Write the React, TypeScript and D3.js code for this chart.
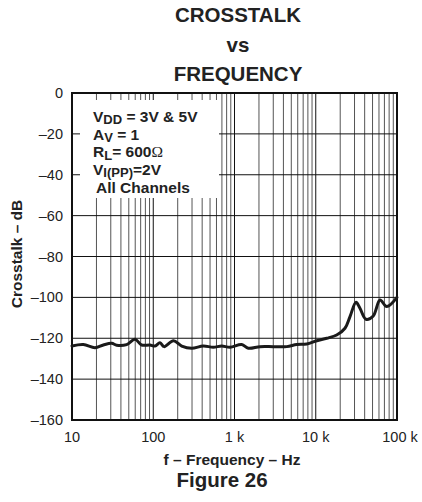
import React from "react";
import * as d3 from "d3";

const freqHz: number[] = [10, 13.8, 19.2, 24.3, 30.8, 35.5, 47, 59.6, 72, 91, 105, 121, 136, 177, 224, 297, 413, 548, 695, 881, 1227, 1480, 2060, 3000, 4400, 5830, 7750, 10300, 13650, 18100, 22900, 26400, 31300, 35000, 41500, 51000, 61800, 74700, 100000];
const crosstalkDb: number[] = [-123.8, -123.1, -124.6, -123.3, -122.5, -123.4, -123.1, -120.5, -123.3, -123.3, -123.8, -122.2, -124.1, -121.2, -123.8, -124.9, -123.8, -124.4, -123.8, -124.4, -123.1, -124.9, -124.1, -124.1, -124.1, -123.1, -122.8, -121.2, -120.0, -118.4, -115.1, -109.4, -102.4, -105.3, -110.7, -109.1, -101.3, -104.5, -100];

const yTicks: number[] = [0, -20, -40, -60, -80, -100, -120, -140, -160];
const xTickValues: number[] = [10, 100, 1000, 10000, 100000];
const xTickLabels: string[] = ["10", "100", "1 k", "10 k", "100 k"];
const titleLines: string[] = ["CROSSTALK", "vs", "FREQUENCY"];

const FONT = "'Liberation Sans', Arial, Helvetica, sans-serif";

export default function App() {
  const left = 72, right = 397, top = 93, bottom = 420;
  const x = d3.scaleLog().domain([10, 100000]).range([left, right]);
  const y = d3.scaleLinear().domain([-160, 0]).range([bottom, top]);

  const minorFreqs: number[] = [];
  for (let dec = 10; dec < 100000; dec *= 10) {
    for (let m = 1; m <= 9; m++) minorFreqs.push(dec * m);
  }
  minorFreqs.push(100000);

  const pts: [number, number][] = freqHz.map((f, i) => [f, crosstalkDb[i]]);
  const line = d3
    .line<[number, number]>()
    .x((d) => x(d[0]))
    .y((d) => y(d[1]))
    .curve(d3.curveCatmullRom.alpha(0.5));

  const titleY = [22, 51.5, 80.5];

  return (
    <svg
      width={422}
      height={502}
      style={{ position: "absolute", left: 0, top: 0, display: "block", background: "#fff" }}
      fontFamily={FONT}
    >
      <rect x={0} y={0} width={422} height={502} fill="#fff" />
      {titleLines.map((t, i) => (
        <text key={t} x={238} y={titleY[i]} textAnchor="middle" fontWeight="bold" fontSize={20.5} fill="#222">
          {t}
        </text>
      ))}

      {/* grid */}
      {minorFreqs.map((f, i) => {
        const isDecade = Math.abs(Math.log10(f) - Math.round(Math.log10(f))) < 1e-9;
        return (
          <line
            key={"v" + i}
            x1={x(f)}
            x2={x(f)}
            y1={top}
            y2={bottom}
            stroke={isDecade ? "#111" : "#555"}
            strokeWidth={1}
          />
        );
      })}
      {yTicks.map((v) => (
        <line key={"h" + v} x1={left} x2={right} y1={y(v)} y2={y(v)} stroke="#111" strokeWidth={1} />
      ))}

      {/* legend box (white) */}
      <rect x={80} y={100} width={139} height={98} fill="#fff" />

      {/* border */}
      <rect x={left} y={top} width={right - left} height={bottom - top} fill="none" stroke="#111" strokeWidth={2} />

      {/* curve */}
      <path d={line(pts) || ""} fill="none" stroke="#1a1a1a" strokeWidth={3} strokeLinejoin="round" strokeLinecap="round" />

      {/* legend text */}
      <g fontWeight="bold" fontSize={15.5} fill="#222">
        <text x={93} y={121.5}>
          V<tspan fontSize={13} dy={2.5}>DD</tspan>
          <tspan dy={-2.5}> = 3V &amp; 5V</tspan>
        </text>
        <text x={93} y={139.5}>
          A<tspan fontSize={13} dy={2.5}>V</tspan>
          <tspan dy={-2.5}> = 1</tspan>
        </text>
        <text x={93} y={157}>
          R<tspan fontSize={13} dy={2.5}>L</tspan>
          <tspan dy={-2.5}>= 600</tspan>
          <tspan fontWeight="normal" fontFamily="'Liberation Serif', 'DejaVu Serif', serif">Ω</tspan>
        </text>
        <text x={93} y={174.5}>
          V<tspan fontSize={13} dy={2}>I(PP)</tspan>
          <tspan dy={-2}>=2V</tspan>
        </text>
        <text x={96} y={193}>All Channels</text>
      </g>

      {/* y tick labels */}
      {yTicks.map((v) => (
        <text key={"yl" + v} x={63} y={y(v)} textAnchor="end" dominantBaseline="central" fontSize={14.5} fill="#222">
          {v === 0 ? "0" : "–" + Math.abs(v)}
        </text>
      ))}
      {/* x tick labels */}
      {xTickValues.map((v, i) => (
        <text key={"xl" + v} x={x(v) + (i === 4 ? 3 : 0)} y={442} textAnchor="middle" fontSize={14.5} fill="#222">
          {xTickLabels[i]}
        </text>
      ))}

      {/* axis titles */}
      <text x={232} y={465} textAnchor="middle" fontWeight="bold" fontSize={15.5} fill="#222">
        f – Frequency – Hz
      </text>
      <text
        transform="translate(22,254) rotate(-90)"
        textAnchor="middle"
        fontWeight="bold"
        fontSize={15.5}
        fill="#222"
      >
        Crosstalk – dB
      </text>
      <text x={222} y={487} textAnchor="middle" fontWeight="bold" fontSize={20.5} fill="#222">
        Figure 26
      </text>
    </svg>
  );
}
